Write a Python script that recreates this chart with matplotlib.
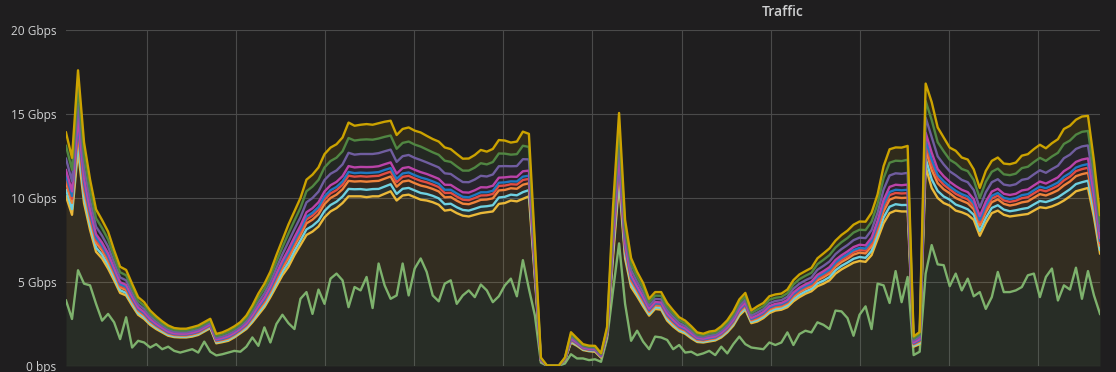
'''
plot.py
Grafana style stacked "Traffic" panel, redrawn with matplotlib
'''
import matplotlib
matplotlib.use('Agg')
import matplotlib.pyplot as plt
import numpy as np

# Series values in Gbps, one sample every ~6 px, bottom of the stack first
green = [3.9, 2.8, 5.7, 4.9, 4.8, 3.7, 2.7, 3.1, 2.6, 1.6,
         2.9, 1.1, 1.5, 1.4, 1.1, 1.3, 1.0, 1.15, 0.9, 0.8,
         0.9, 1.0, 0.8, 1.45, 0.85, 0.63, 0.7, 0.8, 0.9, 0.85,
         1.15, 1.7, 1.2, 2.3, 1.4, 2.5, 3.05, 2.55, 2.2, 4.0,
         4.4, 3.1, 4.55, 3.7, 5.2, 5.5, 5.1, 3.5, 4.7, 4.5,
         5.3, 3.45, 6.1, 4.8, 4.0, 4.2, 6.1, 4.2, 5.8, 6.4,
         5.6, 4.2, 3.85, 4.9, 5.1, 3.7, 4.2, 4.5, 4.1, 4.85,
         4.5, 3.8, 4.15, 4.8, 5.2, 4.15, 6.3, 4.6, 3.0, 0.2,
         0.02, 0.02, 0.02, 0.15, 0.7, 0.45, 0.45, 0.35, 0.4, 0.25,
         1.6, 4.5, 7.3, 3.7, 1.5, 2.1, 1.45, 1.0, 1.75, 1.7,
         1.55, 1.0, 1.25, 0.8, 0.85, 0.65, 0.75, 0.9, 0.65, 1.15,
         0.75, 1.3, 1.75, 1.3, 1.1, 1.05, 1.0, 1.4, 1.25, 1.4,
         2.0, 1.25, 1.9, 2.1, 2.0, 2.6, 2.45, 2.2, 3.3, 3.25,
         2.85, 1.8, 3.05, 3.55, 2.2, 4.9, 4.8, 3.75, 5.65, 3.8,
         5.3, 0.65, 0.85, 5.5, 7.2, 6.05, 6.0, 4.75, 5.5, 4.5,
         5.2, 4.15, 4.4, 3.4, 4.1, 5.6, 4.4, 4.4, 4.5, 4.7,
         5.4, 5.5, 4.1, 5.3, 5.8, 3.9, 4.8, 4.55, 5.85, 4.0,
         5.65, 4.2, 3.1]

yellow = [6.2, 6.2, 7.1, 4.8, 3.3, 3.1, 3.7, 2.7, 2.5, 2.75,
          1.3, 2.5, 1.55, 1.4, 1.35, 0.9, 1.0, 0.65, 0.82, 0.9,
          0.8, 0.75, 1.05, 0.6, 1.4, 0.72, 0.72, 0.7, 0.8, 1.1,
          1.05, 0.9, 1.85, 1.2, 2.7, 2.25, 2.35, 3.35, 4.4, 3.2,
          3.4, 4.9, 3.75, 5.15, 4.0, 3.9, 4.6, 6.6, 5.4, 5.6,
          4.75, 6.65, 4.0, 5.45, 6.4, 5.65, 4.05, 6.0, 4.25, 3.5,
          4.25, 5.55, 5.75, 4.35, 4.2, 5.4, 4.75, 4.4, 4.9, 4.25,
          4.65, 5.4, 5.5, 4.9, 4.65, 5.65, 3.65, 5.5, 2.2, 0.1,
          0.01, 0.01, 0.01, 0.2, 0.7, 0.75, 0.5, 0.53, 0.45, 0.25,
          0.2, 2.0, 3.6, 2.7, 3.2, 2.05, 2.1, 2.0, 1.65, 1.65,
          1.15, 1.35, 0.82, 1.12, 0.8, 0.78, 0.65, 0.56, 0.87, 0.55,
          1.25, 1.1, 1.25, 2.05, 1.45, 1.6, 1.85, 1.75, 2.05, 1.95,
          1.5, 2.6, 2.2, 2.2, 2.45, 2.15, 2.45, 2.9, 2.2, 2.5,
          3.1, 4.35, 3.2, 2.65, 4.4, 2.65, 3.7, 5.35, 3.6, 5.4,
          3.9, 0.5, 0.45, 6.35, 3.4, 3.95, 3.7, 4.8, 3.75, 4.65,
          3.8, 4.55, 3.35, 5.1, 5.0, 3.65, 4.6, 4.5, 4.45, 4.3,
          3.65, 3.75, 5.35, 4.1, 3.7, 5.75, 5.05, 5.55, 4.55, 6.5,
          4.95, 4.65, 3.6]

cyan = [.38, .34, .48, .36, .30, .25, .23, .22, .18, .16,
        .15, .13, .11, .10, .09, .08, .07, .06, .05, .05,
        .05, .06, .06, .06, .06, .06, .06, .07, .07, .07,
        .08, .10, .13, .14, .15, .19, .21, .25, .26, .28,
        .33, .34, .35, .38, .38, .38, .39, .44, .42, .43,
        .44, .43, .44, .43, .42, .39, .40, .40, .40, .40,
        .39, .38, .38, .38, .36, .35, .34, .35, .36, .38,
        .36, .37, .38, .37, .35, .36, .40, .37, .21, .02,
        0, 0, 0, .02, .06, .05, .04, .03, .04, .03,
        .05, .30, .42, .23, .17, .15, .14, .10, .10, .11,
        .11, .10, .08, .08, .07, .06, .05, .06, .06, .07,
        .07, .09, .10, .10, .08, .09, .09, .10, .10, .10,
        .11, .13, .14, .14, .14, .17, .18, .19, .20, .21,
        .21, .23, .24, .24, .25, .27, .34, .38, .38, .38,
        .39, .06, .07, .50, .51, .42, .39, .35, .36, .33,
        .33, .30, .29, .31, .31, .32, .31, .31, .32, .35,
        .36, .37, .37, .36, .38, .39, .43, .42, .43, .44,
        .43, .34, .23]

orange = [.42, .37, .53, .40, .33, .28, .25, .24, .20, .17,
          .17, .14, .12, .11, .09, .08, .07, .07, .06, .06,
          .06, .06, .06, .06, .06, .06, .06, .07, .07, .07,
          .09, .11, .14, .15, .17, .20, .23, .28, .29, .31,
          .36, .37, .39, .41, .42, .42, .43, .48, .46, .47,
          .48, .47, .48, .47, .46, .43, .43, .44, .43, .44,
          .42, .41, .41, .41, .40, .39, .37, .38, .39, .41,
          .40, .41, .42, .41, .38, .39, .44, .41, .23, .02,
          0, 0, 0, .02, .07, .05, .04, .04, .04, .03,
          .06, .33, .46, .25, .19, .16, .15, .11, .11, .12,
          .12, .10, .09, .09, .08, .06, .06, .06, .06, .07,
          .08, .09, .10, .11, .08, .10, .10, .11, .10, .10,
          .12, .14, .15, .15, .15, .18, .20, .21, .21, .23,
          .23, .25, .26, .26, .28, .29, .37, .42, .41, .42,
          .43, .07, .08, .54, .56, .46, .43, .38, .39, .36,
          .36, .33, .31, .34, .34, .35, .34, .34, .35, .39,
          .39, .40, .41, .39, .41, .42, .47, .46, .47, .48,
          .47, .37, .25]

red = [.27, .24, .34, .25, .21, .18, .16, .15, .13, .11,
       .11, .09, .07, .07, .06, .05, .05, .04, .04, .04,
       .04, .04, .04, .04, .04, .04, .04, .05, .05, .05,
       .06, .07, .09, .10, .11, .13, .15, .18, .18, .20,
       .23, .24, .25, .26, .27, .27, .27, .31, .29, .30,
       .30, .30, .30, .30, .29, .27, .28, .28, .28, .28,
       .27, .26, .26, .26, .25, .25, .24, .24, .25, .26,
       .25, .26, .27, .26, .24, .25, .28, .26, .15, .01,
       0, 0, 0, .01, .04, .03, .02, .02, .02, .02,
       .04, .21, .29, .16, .12, .10, .10, .07, .07, .07,
       .07, .07, .06, .05, .05, .04, .04, .04, .04, .05,
       .05, .06, .07, .07, .05, .06, .06, .07, .07, .07,
       .07, .09, .09, .09, .10, .12, .13, .13, .14, .14,
       .15, .16, .16, .17, .18, .19, .24, .27, .26, .27,
       .27, .04, .05, .35, .36, .29, .27, .24, .25, .23,
       .23, .21, .20, .22, .22, .22, .21, .22, .22, .25,
       .25, .26, .26, .25, .26, .27, .30, .29, .30, .30,
       .30, .23, .16]

blue = [.19, .17, .24, .18, .15, .13, .12, .11, .09, .08,
        .08, .07, .05, .05, .04, .04, .03, .03, .03, .03,
        .03, .03, .03, .03, .03, .03, .03, .03, .03, .03,
        .04, .05, .06, .07, .08, .09, .11, .13, .13, .14,
        .17, .17, .18, .19, .19, .19, .20, .22, .21, .21,
        .22, .21, .22, .22, .21, .20, .20, .20, .20, .20,
        .19, .19, .19, .19, .18, .18, .17, .17, .18, .19,
        .18, .19, .19, .19, .17, .18, .20, .19, .11, .01,
        0, 0, 0, .01, .03, .02, .02, .02, .02, .01,
        .03, .15, .21, .12, .09, .07, .07, .05, .05, .05,
        .05, .05, .04, .04, .04, .03, .03, .03, .03, .03,
        .04, .04, .05, .05, .04, .05, .05, .05, .05, .05,
        .05, .06, .07, .07, .07, .08, .09, .10, .10, .10,
        .11, .11, .12, .12, .13, .13, .17, .19, .19, .19,
        .20, .03, .04, .25, .26, .21, .20, .17, .18, .16,
        .17, .15, .14, .16, .16, .16, .15, .16, .16, .18,
        .18, .18, .19, .18, .19, .19, .21, .21, .21, .22,
        .22, .17, .12]

magenta = [.30, .27, .38, .29, .24, .20, .18, .18, .14, .12,
           .12, .10, .08, .08, .07, .06, .05, .05, .04, .04,
           .04, .04, .04, .04, .04, .04, .05, .05, .05, .05,
           .06, .08, .10, .11, .12, .15, .17, .20, .21, .22,
           .26, .27, .28, .30, .30, .30, .31, .35, .34, .34,
           .35, .34, .35, .34, .34, .31, .32, .32, .32, .32,
           .31, .30, .30, .30, .29, .28, .27, .28, .28, .30,
           .29, .30, .30, .30, .28, .28, .32, .30, .17, .02,
           0, 0, 0, .01, .05, .04, .03, .03, .03, .02,
           .04, .24, .33, .18, .14, .12, .11, .08, .08, .08,
           .08, .08, .07, .06, .06, .05, .04, .05, .05, .05,
           .06, .07, .08, .08, .06, .07, .07, .08, .08, .08,
           .08, .10, .11, .11, .11, .13, .14, .15, .16, .16,
           .17, .18, .19, .19, .20, .21, .27, .30, .30, .30,
           .31, .05, .06, .40, .41, .34, .31, .28, .28, .26,
           .26, .24, .23, .25, .25, .25, .24, .25, .25, .28,
           .28, .29, .30, .28, .30, .31, .34, .34, .34, .35,
           .34, .27, .18]

purple = [.68, .61, .86, .65, .54, .45, .41, .40, .32, .28,
          .27, .23, .19, .18, .15, .14, .12, .11, .10, .09,
          .09, .10, .10, .10, .10, .10, .10, .12, .12, .12,
          .14, .18, .23, .25, .27, .33, .38, .45, .47, .50,
          .59, .61, .63, .68, .68, .68, .70, .79, .76, .77,
          .78, .77, .78, .77, .76, .70, .71, .72, .71, .72,
          .69, .68, .68, .68, .65, .63, .61, .62, .64, .68,
          .65, .67, .68, .67, .62, .64, .72, .67, .38, .04,
          0, 0, 0, .03, .11, .08, .06, .06, .06, .05,
          .09, .54, .75, .41, .31, .26, .25, .18, .18, .19,
          .19, .17, .15, .14, .13, .10, .09, .11, .10, .12,
          .13, .15, .17, .18, .14, .16, .16, .18, .17, .17,
          .19, .23, .24, .24, .25, .30, .32, .34, .35, .37,
          .38, .41, .42, .43, .45, .48, .61, .68, .68, .68,
          .70, .11, .13, .89, .92, .76, .70, .62, .64, .59,
          .59, .54, .51, .56, .56, .57, .55, .56, .57, .63,
          .64, .66, .67, .64, .68, .69, .77, .76, .77, .78,
          .77, .60, .41]

dkgreen = [.76, .68, .96, .72, .60, .50, .46, .44, .36, .31,
           .30, .26, .21, .20, .17, .15, .13, .12, .11, .10,
           .10, .11, .11, .11, .11, .11, .12, .13, .13, .13,
           .16, .20, .25, .28, .30, .37, .42, .50, .52, .56,
           .66, .68, .70, .75, .76, .76, .78, .88, .84, .85,
           .87, .85, .87, .86, .84, .78, .79, .80, .79, .80,
           .77, .75, .75, .75, .72, .70, .68, .69, .71, .75,
           .72, .74, .76, .74, .69, .71, .80, .74, .42, .04,
           0, 0, 0, .03, .12, .09, .07, .06, .07, .05,
           .10, .60, .83, .46, .34, .29, .28, .20, .20, .21,
           .21, .19, .17, .16, .14, .11, .10, .12, .12, .13,
           .14, .17, .19, .20, .15, .18, .18, .20, .19, .19,
           .21, .25, .27, .27, .28, .33, .36, .38, .39, .41,
           .42, .45, .47, .48, .50, .53, .68, .76, .75, .76,
           .78, .12, .14, .99, 1.02, .84, .78, .69, .71, .65,
           .66, .60, .57, .62, .62, .63, .61, .62, .63, .70,
           .71, .73, .74, .71, .75, .77, .85, .84, .85, .87,
           .86, .67, .46]

dkyellow = [.80, .71, 1.01, .76, .63, .53, .48, .46, .38, .33,
            .32, .27, .22, .21, .18, .16, .14, .13, .11, .11,
            .11, .12, .12, .12, .12, .12, .12, .14, .14, .14,
            .17, .21, .26, .29, .32, .39, .44, .53, .55, .59,
            .69, .71, .74, .79, .80, .80, .82, .92, .88, .89,
            .91, .89, .91, .90, .88, .82, .83, .84, .83, .84,
            .81, .79, .79, .79, .76, .74, .71, .72, .75, .79,
            .76, .78, .80, .78, .72, .75, .84, .78, .44, .04,
            0, 0, 0, .03, .13, .09, .07, .07, .07, .05,
            .11, .63, .87, .48, .36, .30, .29, .21, .21, .22,
            .22, .20, .17, .16, .15, .12, .11, .12, .12, .14,
            .15, .18, .20, .21, .16, .19, .19, .21, .20, .20,
            .22, .26, .28, .28, .29, .35, .38, .40, .41, .43,
            .44, .47, .49, .50, .53, .56, .71, .80, .79, .80,
            .82, .13, .15, 1.04, 1.07, .88, .82, .72, .75, .68,
            .69, .63, .60, .65, .65, .66, .64, .65, .66, .74,
            .75, .77, .78, .75, .79, .81, .89, .88, .89, .91,
            .90, .70, .48]

series = [green, yellow, cyan, orange, red, blue, magenta, purple, dkgreen, dkyellow]
colors = ['#7EB26D', '#EAB839', '#6ED0E0', '#EF843C', '#E24D42',
          '#1F78C1', '#BA43A9', '#705DA0', '#508642', '#CCA300']

y_ticks = [0, 5, 10, 15, 20]
y_labels = ['0 bps', '5 Gbps', '10 Gbps', '15 Gbps', '20 Gbps']

BG = '#1f1e1f'
TEXT = '#d0d1d2'

plt.rcParams['font.family'] = ['Open Sans', 'DejaVu Sans']

fig = plt.figure(figsize=(11.16, 3.72), dpi=100, facecolor=BG)
ax = fig.add_axes([66 / 1116, 6 / 372, 1034 / 1116, 336 / 372], facecolor=BG)

values = np.array(series, dtype=float)
x = np.arange(values.shape[1])
levels = np.cumsum(values, axis=0)

# Stacked fills first, then the lines on top (like grafana)
prev = np.zeros_like(x, dtype=float)
for level, col in zip(levels, colors):
    ax.fill_between(x, prev, level, color=col, alpha=0.1, linewidth=0)
    prev = level
for level, col in zip(levels, colors):
    ax.plot(x, level, color=col, linewidth=1.7, solid_joinstyle='round')

ax.set_xlim(0, len(x) - 1)
ax.set_ylim(0, 20)
ax.set_yticks(y_ticks)
ax.set_yticklabels(y_labels)
ax.set_xticks(np.arange(13.47, len(x) - 1, 14.82))
ax.set_xticklabels([])
ax.tick_params(axis='both', length=0, colors=TEXT, labelsize=8.6)
ax.tick_params(axis='y', pad=7)
ax.grid(True, color='#4a4a4a', linewidth=0.8)
ax.set_axisbelow(True)
for spine in ax.spines.values():
    spine.set_visible(False)

fig.text(783 / 1116, 1 - 12 / 372, 'Traffic', ha='center', va='center',
         fontsize=10, fontweight='semibold', color=TEXT)

plt.savefig('out.png', dpi=100, facecolor=BG)
